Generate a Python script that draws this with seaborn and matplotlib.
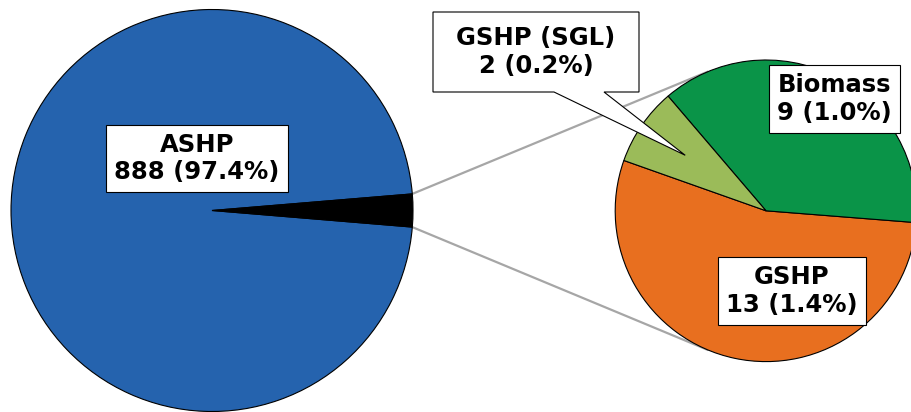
import matplotlib
matplotlib.use("Agg")
import matplotlib.pyplot as plt
import seaborn as sns
import numpy as np
from matplotlib.patches import Polygon

# ---- data ----
main_labels = ["ASHP", "Other"]
main_values = [888, 24]
sub_labels = ["GSHP", "Biomass", "GSHP (SGL)"]
sub_values = [13, 9, 2]

sns.set_theme(style="white")
plt.rcParams['font.family'] = ['DejaVu Sans']
plt.rcParams['text.color'] = 'black'

colors_main = ["#2563AE", "#000000"]
colors_sub = ["#E86F1F", "#0A9448", "#9BBB59"]

total = sum(main_values)
W, H = 911, 412
fig = plt.figure(figsize=(W / 100, H / 100), dpi=100)
ax = fig.add_axes([0, 0, 1, 1])

c1 = np.array([212.0, H - 210.5]); r1 = 201.0
c2 = np.array([766.0, H - 210.8]); r2 = 150.8

half = main_values[1] / total * 360 / 2
wp = dict(edgecolor="black", linewidth=0.8)
w1, _ = ax.pie(main_values, colors=colors_main, startangle=half, counterclock=True,
               center=tuple(c1), radius=r1, wedgeprops=wp, frame=True)
w2, _ = ax.pie(sub_values, colors=colors_sub, startangle=160.5, counterclock=True,
               center=tuple(c2), radius=r2, wedgeprops=wp, frame=True)
for w in w1 + w2:
    w.set_zorder(3)

# connector lines (tangents from the "Other" wedge corners to the secondary pie)
other = w1[1]
for ang, sign in [(other.theta2, -1), (other.theta1, +1)]:
    P = c1 + r1 * np.array([np.cos(np.radians(ang)), np.sin(np.radians(ang))])
    v = P - c2
    d = np.hypot(*v)
    phi = np.arctan2(v[1], v[0])
    if phi < 0:
        phi += 2 * np.pi
    alpha = np.arccos(r2 / d)
    t = phi + sign * alpha
    T = c2 + r2 * np.array([np.cos(t), np.sin(t)])
    ax.plot([P[0], T[0]], [P[1], T[1]], color="#A6A6A6", lw=1.6, zorder=2,
            solid_capstyle="butt")

fs = 17.5
box = dict(boxstyle="square,pad=0.33", fc="white", ec="black", lw=0.8)

def lab(vals, idx, name):
    return f"{name}\n{vals[idx]} ({vals[idx] / total * 100:.1f}%)"

tk = dict(ha="center", va="center", fontsize=fs, fontweight="bold", color="black",
          linespacing=1.2)
ax.text(197, H - 158.5, lab(main_values, 0, main_labels[0]), bbox=box, zorder=5, **tk)
ax.text(834.5, H - 99, lab(sub_values, 1, sub_labels[1]), bbox=box, zorder=5, **tk)
ax.text(792, H - 291, lab(sub_values, 0, sub_labels[0]), bbox=box, zorder=5, **tk)

# callout for GSHP (SGL)
sgl = w2[2]
mid = np.radians((sgl.theta1 + sgl.theta2) / 2)
tip = c2 + 0.65 * r2 * np.array([np.cos(mid), np.sin(mid)])
x0, x1, yt, yb = 433, 639, H - 12, H - 92
poly = Polygon([(x0, yt), (x1, yt), (x1, yb), (604, yb), tuple(tip), (554, yb), (x0, yb)],
               closed=True, fc="white", ec="black", lw=0.8, zorder=5)
ax.add_patch(poly)
ax.text((x0 + x1) / 2, H - 52, lab(sub_values, 2, sub_labels[2]), zorder=6, **tk)

ax.set_xlim(0, W)
ax.set_ylim(0, H)
ax.set_aspect("equal")
ax.axis("off")
fig.savefig("out.png", dpi=100, facecolor="white")
